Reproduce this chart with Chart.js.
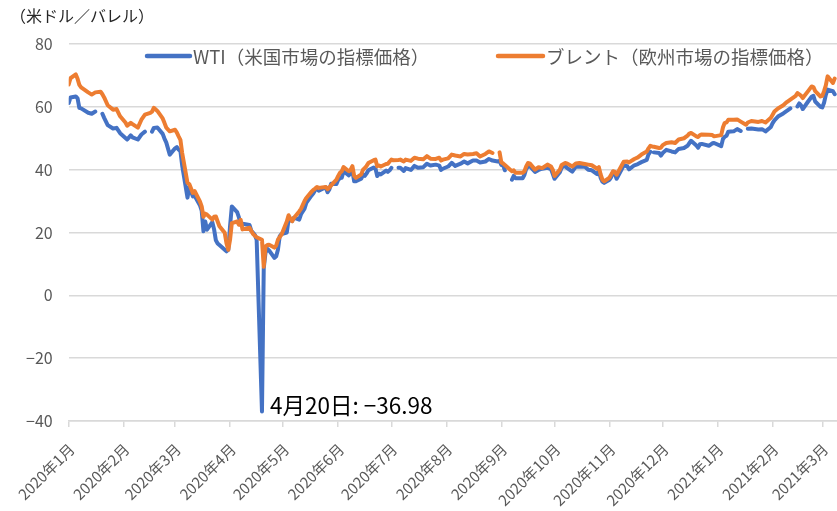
<!DOCTYPE html>
<html><head><meta charset="utf-8">
<script src="https://cdn.jsdelivr.net/npm/chart.js@4.4.1/dist/chart.umd.min.js"></script>
<style>html,body{margin:0;padding:0;background:#fff}#wrap{position:relative;width:837px;height:511px}</style>
</head><body><div id="wrap"><canvas id="c"></canvas></div>
<script>
const dates = [
'2020-01-02','2020-01-03','2020-01-06','2020-01-07','2020-01-08','2020-01-09','2020-01-13','2020-01-15','2020-01-17','2020-01-20',
'2020-01-21','2020-01-22','2020-01-24','2020-01-27','2020-01-29','2020-01-31','2020-02-03','2020-02-04','2020-02-06','2020-02-07',
'2020-02-10','2020-02-12','2020-02-14','2020-02-17','2020-02-18','2020-02-19','2020-02-21','2020-02-24','2020-02-25','2020-02-26',
'2020-02-28','2020-03-02','2020-03-03','2020-03-04','2020-03-05','2020-03-06','2020-03-09','2020-03-10','2020-03-11','2020-03-12',
'2020-03-13','2020-03-16','2020-03-17','2020-03-18','2020-03-19','2020-03-20','2020-03-23','2020-03-24','2020-03-25','2020-03-26',
'2020-03-27','2020-03-30','2020-03-31','2020-04-01','2020-04-02','2020-04-03','2020-04-06','2020-04-07','2020-04-08','2020-04-09',
'2020-04-13','2020-04-14','2020-04-15','2020-04-16','2020-04-17','2020-04-20','2020-04-21','2020-04-22','2020-04-23','2020-04-24',
'2020-04-27','2020-04-28','2020-04-29','2020-04-30','2020-05-01','2020-05-04','2020-05-05','2020-05-06','2020-05-07','2020-05-08',
'2020-05-11','2020-05-12','2020-05-14','2020-05-15','2020-05-18','2020-05-19','2020-05-20','2020-05-21','2020-05-22','2020-05-26',
'2020-05-27','2020-05-28','2020-05-29','2020-06-01','2020-06-02','2020-06-03','2020-06-04','2020-06-05','2020-06-08','2020-06-09',
'2020-06-10','2020-06-11','2020-06-12','2020-06-15','2020-06-16','2020-06-17','2020-06-18','2020-06-19','2020-06-22','2020-06-23',
'2020-06-24','2020-06-25','2020-06-26','2020-06-29','2020-06-30','2020-07-01','2020-07-02','2020-07-03','2020-07-06','2020-07-07',
'2020-07-09','2020-07-10','2020-07-13','2020-07-15','2020-07-17','2020-07-20','2020-07-22','2020-07-24','2020-07-27','2020-07-29',
'2020-07-30','2020-07-31','2020-08-03','2020-08-05','2020-08-07','2020-08-10','2020-08-12','2020-08-14','2020-08-17','2020-08-19',
'2020-08-21','2020-08-24','2020-08-26','2020-08-28','2020-08-31','2020-09-01','2020-09-02','2020-09-03','2020-09-04','2020-09-07',
'2020-09-08','2020-09-09','2020-09-10','2020-09-11','2020-09-14','2020-09-15','2020-09-16','2020-09-17','2020-09-18','2020-09-21',
'2020-09-23','2020-09-25','2020-09-28','2020-09-30','2020-10-01','2020-10-02','2020-10-05','2020-10-06','2020-10-08','2020-10-09',
'2020-10-12','2020-10-14','2020-10-16','2020-10-19','2020-10-21','2020-10-23','2020-10-26','2020-10-27','2020-10-28','2020-10-29',
'2020-10-30','2020-11-02','2020-11-03','2020-11-04','2020-11-05','2020-11-06','2020-11-09','2020-11-10','2020-11-12','2020-11-13',
'2020-11-16','2020-11-18','2020-11-20','2020-11-23','2020-11-24','2020-11-25','2020-11-26','2020-11-27','2020-11-30','2020-12-01',
'2020-12-02','2020-12-04','2020-12-07','2020-12-09','2020-12-11','2020-12-14','2020-12-16','2020-12-17','2020-12-18','2020-12-21',
'2020-12-22','2020-12-23','2020-12-24','2020-12-28','2020-12-30','2020-12-31','2021-01-04','2021-01-05','2021-01-06','2021-01-07',
'2021-01-08','2021-01-11','2021-01-13','2021-01-15','2021-01-18','2021-01-19','2021-01-21','2021-01-25','2021-01-27','2021-01-29',
'2021-02-01','2021-02-02','2021-02-03','2021-02-05','2021-02-08','2021-02-10','2021-02-12','2021-02-15','2021-02-16','2021-02-17',
'2021-02-18','2021-02-19','2021-02-22','2021-02-24','2021-02-25','2021-02-26','2021-03-01','2021-03-02','2021-03-03','2021-03-04',
'2021-03-05','2021-03-08','2021-03-09'
];
const wti = [
61.2,63.0,63.3,62.7,59.7,59.5,58.1,57.8,58.5,null,
57.8,56.5,54.2,53.1,53.3,51.6,50.1,49.6,50.9,50.3,
49.6,51.2,52.1,null,52.1,53.3,53.4,51.4,49.9,48.7,
44.8,46.8,47.2,46.4,45.9,41.3,31.1,34.4,33.0,31.5,
31.7,28.7,27.0,20.4,23.5,20.9,23.3,21.0,17.5,16.5,
16.0,14.5,14.0,14.5,22.0,28.3,26.5,24.8,22.5,22.8,
22.4,20.5,19.9,19.2,17.7,-36.98,8.6,13.6,14.8,14.3,
11.9,12.4,14.5,18.8,19.5,20.0,24.1,24.0,23.6,24.7,
24.1,25.8,27.6,29.4,31.8,32.5,33.5,33.9,33.3,34.4,
32.8,33.7,35.5,35.4,36.8,37.3,37.4,39.5,38.2,38.9,
39.6,36.3,36.3,37.1,38.4,38.0,38.8,39.8,40.7,40.4,
38.0,38.7,38.5,39.7,39.3,39.8,40.6,null,40.6,40.6,
39.6,40.5,39.9,41.2,40.6,40.8,41.9,41.3,41.6,41.3,
39.9,40.3,41.0,42.2,41.2,41.9,42.6,42.0,42.9,42.9,
42.3,42.6,43.4,42.9,42.6,42.8,41.5,41.4,39.8,null,
36.8,38.0,37.3,37.3,37.3,38.3,40.2,41.0,41.1,39.3,
39.9,40.3,40.6,40.2,38.7,37.1,39.2,40.7,41.2,40.6,
39.4,41.0,40.9,41.0,40.0,39.8,38.6,39.6,37.4,36.2,
35.8,36.8,37.7,39.2,38.8,37.1,40.3,41.4,41.1,40.1,
41.4,41.8,42.4,43.1,44.9,45.7,null,45.5,45.3,44.5,
45.3,46.3,45.8,45.5,46.6,46.9,47.6,48.4,49.2,47.7,
47.0,48.1,48.2,47.6,48.4,48.5,47.5,49.8,50.5,50.8,
52.1,52.2,52.9,52.3,null,53.0,53.1,52.8,52.9,52.2,
53.6,54.8,55.7,56.9,57.9,58.7,59.5,null,60.1,61.1,
60.5,59.3,61.7,63.2,63.5,61.7,60.0,59.8,61.3,63.8,
65.5,65.0,64.0
];
const brent = [
67.1,69.1,70.3,68.9,67.0,66.2,64.6,63.9,64.6,64.8,
64.0,63.0,60.5,59.1,59.3,57.0,55.0,54.0,54.9,54.5,
53.4,55.9,57.5,58.1,58.5,59.7,58.7,56.3,54.9,53.4,
52.2,52.7,51.8,50.6,49.5,45.3,35.8,35.4,34.0,32.6,
33.2,29.9,28.3,25.0,26.0,25.7,24.1,25.0,25.1,23.5,
22.0,19.9,16.5,14.5,17.7,23.0,23.5,22.5,24.0,21.0,
21.5,20.5,19.5,19.0,18.5,17.7,9.1,15.6,16.0,16.1,
15.2,15.8,17.7,18.5,19.3,23.5,25.5,24.5,23.6,24.6,
26.7,27.5,30.0,31.0,33.0,33.6,34.0,34.5,34.2,34.5,
33.8,34.3,35.0,36.8,38.0,39.0,39.5,40.8,39.5,40.0,
41.1,38.0,37.4,38.5,40.0,40.5,41.2,42.1,43.0,43.2,
41.1,41.3,41.0,41.8,41.9,42.6,43.2,43.0,43.1,43.2,
42.6,43.2,42.8,43.8,43.5,43.3,44.3,43.5,43.4,43.8,
42.9,43.2,43.6,44.8,44.5,44.2,45.0,44.8,45.0,45.2,
44.2,45.0,45.8,45.3,null,45.5,42.3,42.0,41.5,40.0,
39.5,39.8,39.0,39.0,39.0,39.5,41.0,42.1,42.0,40.0,
40.8,40.5,41.6,41.0,40.0,38.0,40.0,41.5,42.1,42.0,
41.0,42.0,42.1,41.8,41.6,41.4,40.3,40.8,38.5,36.8,
36.3,37.5,38.5,39.5,39.3,38.4,41.5,42.5,42.6,42.3,
43.4,43.9,44.8,45.8,46.8,47.6,47.4,47.3,46.9,47.0,
47.8,48.5,48.7,48.5,49.6,50.0,50.8,51.5,51.7,50.6,
50.4,51.0,51.2,51.1,51.0,50.6,51.0,53.5,54.9,55.0,
55.9,55.9,56.0,55.3,54.3,55.0,55.5,55.2,55.5,55.0,
56.5,57.5,58.5,59.5,60.5,61.5,62.3,63.5,64.4,64.0,
63.5,62.8,65.0,66.5,66.3,65.0,63.3,63.5,65.0,66.8,
69.7,67.6,69.0
];
const seriesNames = ['WTI（米国市場の指標価格）', 'ブレント（欧州市場の指標価格）'];
const seriesColors = ['#4472C4', '#ED7D31'];
const tickDates = ['2020-01-02','2020-02-02','2020-03-02','2020-04-02','2020-05-02','2020-06-02','2020-07-02','2020-08-02',
  '2020-09-02','2020-10-02','2020-11-02','2020-12-02','2021-01-02','2021-02-02','2021-03-02'];
const tickLabels = ['2020年1月','2020年2月','2020年3月','2020年4月','2020年5月','2020年6月','2020年7月','2020年8月',
  '2020年9月','2020年10月','2020年11月','2020年12月','2021年1月','2021年2月','2021年3月'];
const yMin = -40, yMax = 80, yStep = 20;
const unitLabel = '（米ドル／バレル）';
const noteDate = '2020-04-20';
const noteText = '4月20日: −36.98';

const FONT = '"Noto Sans CJK JP", "Noto Sans", sans-serif';
const base = Date.UTC(2020, 0, 2);
function dayOf(s) { const p = s.split('-').map(Number); return (Date.UTC(p[0], p[1] - 1, p[2]) - base) / 86400000; }
const xs = dates.map(dayOf);
const xMax = dayOf('2021-03-09') + 1.3;

const overlay = {
  id: 'overlay',
  afterDraw(chart) {
    const ctx = chart.ctx;
    ctx.save();
    // unit label
    ctx.font = '16px ' + FONT;
    ctx.fillStyle = '#262626';
    ctx.textBaseline = 'middle';
    ctx.textAlign = 'left';
    ctx.fillText(unitLabel, 10, 16);
    // legend
    const items = [{x0: 147, x1: 190, tx: 193}, {x0: 498, x1: 543, tx: 546}];
    ctx.font = '18.5px ' + FONT;
    items.forEach((it, i) => {
      ctx.strokeStyle = seriesColors[i];
      ctx.lineWidth = 4.5;
      ctx.lineCap = 'round';
      ctx.beginPath(); ctx.moveTo(it.x0, 56); ctx.lineTo(it.x1, 56); ctx.stroke();
      ctx.fillStyle = '#595959';
      ctx.fillText(seriesNames[i], it.tx, 57);
    });
    // annotation at WTI minimum
    const idx = dates.indexOf(noteDate);
    const pt = chart.getDatasetMeta(0).data[idx];
    ctx.font = '22.5px ' + FONT;
    ctx.fillStyle = '#000';
    ctx.textBaseline = 'alphabetic';
    ctx.fillText(noteText, pt.x + 8, pt.y + 2);
    ctx.restore();
  }
};

new Chart(document.getElementById('c'), {
  type: 'line',
  data: {
    datasets: [
      { label: seriesNames[0], data: xs.map((x, i) => ({x: x, y: wti[i]})), borderColor: seriesColors[0],
        backgroundColor: seriesColors[0], borderWidth: 4, pointRadius: 0, tension: 0, spanGaps: false,
        borderJoinStyle: 'round', borderCapStyle: 'round', order: 1 },
      { label: seriesNames[1], data: xs.map((x, i) => ({x: x, y: brent[i]})), borderColor: seriesColors[1],
        backgroundColor: seriesColors[1], borderWidth: 4, pointRadius: 0, tension: 0, spanGaps: false,
        borderJoinStyle: 'round', borderCapStyle: 'round', order: 0 }
    ]
  },
  options: {
    responsive: true, maintainAspectRatio: false, animation: false,
    layout: { padding: { top: 44, left: 0, right: 0, bottom: 0 } },
    plugins: { legend: { display: false }, tooltip: { enabled: false }, title: { display: false } },
    scales: {
      x: {
        type: 'linear', min: 0, max: xMax, position: 'bottom',
        afterBuildTicks: s => { s.ticks = tickDates.map(d => ({ value: dayOf(d) })); },
        afterFit: s => { s.height = 90; s.paddingLeft = 0; s.paddingRight = 0; },
        ticks: { autoSkip: false, maxRotation: 45, minRotation: 45, color: '#595959', padding: 13, labelOffset: 3,
          font: { family: FONT, size: 15 }, callback: (v, i) => tickLabels[i] },
        grid: { drawOnChartArea: false, drawTicks: true, tickLength: 6, color: '#d9d9d9', lineWidth: 1.5 },
        border: { display: true, color: '#d9d9d9', width: 1.5 }
      },
      y: {
        min: yMin, max: yMax,
        afterFit: s => { s.width = 68.7; s.paddingTop = 0; s.paddingBottom = 0; },
        ticks: { stepSize: yStep, color: '#595959', padding: 16, font: { family: FONT, size: 16 },
          callback: v => v < 0 ? '−' + Math.abs(v) : String(v) },
        grid: { color: '#d9d9d9', lineWidth: 1.5, drawTicks: false },
        border: { display: false }
      }
    }
  },
  plugins: [overlay]
});
</script>
</body></html>
